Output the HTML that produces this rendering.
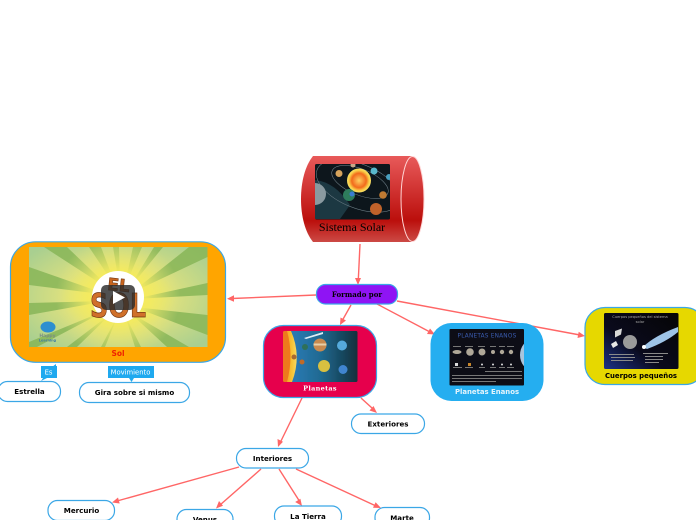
<!DOCTYPE html>
<html><head><meta charset="utf-8"><style>
html,body{margin:0;padding:0;background:#fff;width:696px;height:520px;overflow:hidden}
svg{display:block}
.v{font-family:"DejaVu Sans",sans-serif;font-weight:bold;font-size:7.1px;fill:#000;text-anchor:middle}
.box{fill:#fff;stroke:#3ba7e6;stroke-width:1.2}
.l{stroke:#ff6666;stroke-width:1.4;fill:none}
.a{fill:#ff6666}
</style></head><body>
<svg width="696" height="520" viewBox="0 0 696 520" xmlns="http://www.w3.org/2000/svg">
<defs>
<linearGradient id="cyl" x1="0" y1="0" x2="0" y2="1"><stop offset="0" stop-color="#e85a5a"/><stop offset=".75" stop-color="#bb0f0c"/><stop offset="1" stop-color="#cc4a45"/></linearGradient>
<radialGradient id="sun" cx=".5" cy=".5" r=".65"><stop offset="0" stop-color="#fff"/><stop offset=".18" stop-color="#fff34a"/><stop offset=".5" stop-color="#d8df80"/><stop offset="1" stop-color="#a9cf90"/></radialGradient>
<radialGradient id="glow"><stop offset="0" stop-color="#fbf04a"/><stop offset=".45" stop-color="#f4ea60" stop-opacity=".9"/><stop offset="1" stop-color="#e4e480" stop-opacity="0"/></radialGradient>
<radialGradient id="s2"><stop offset="0" stop-color="#ffd060"/><stop offset=".6" stop-color="#f26a1c"/><stop offset=".85" stop-color="#f9d048"/><stop offset="1" stop-color="#f9e068"/></radialGradient>
<linearGradient id="pl" x1="0" y1="0" x2="1" y2="0"><stop offset="0" stop-color="#2f7fc0"/><stop offset=".5" stop-color="#1f6a92"/><stop offset="1" stop-color="#12303c"/></linearGradient>
<linearGradient id="sunedge" x1="0" y1="0" x2="1" y2="0"><stop offset="0" stop-color="#f09020"/><stop offset=".6" stop-color="#f7c030"/><stop offset="1" stop-color="#f8d860"/></linearGradient>
<linearGradient id="cp" x1="1" y1="0" x2="0" y2="1"><stop offset="0" stop-color="#050505"/><stop offset=".6" stop-color="#0a0a1c"/><stop offset="1" stop-color="#1c3288"/></linearGradient>
<clipPath id="c1"><rect x="315" y="164" width="75" height="55.500" rx="1.500"/></clipPath>
<clipPath id="c2"><rect x="283" y="331" width="74.500" height="51" rx="1.500"/></clipPath>
<clipPath id="c3"><rect x="449.500" y="329" width="74.500" height="56.500" rx="1"/></clipPath>
<filter id="b" x="-5%" y="-5%" width="110%" height="110%"><feGaussianBlur stdDeviation=".35"/></filter>
</defs>

<!-- connectors -->
<path class="l" d="M360 244L358.300 280"/><path class="a" d="M358 285l-3-7h6z"/>
<path class="l" d="M316 295L232 298.500"/><path class="a" d="M227 298.700l7-3.500v6.500z"/>
<path class="l" d="M351 305L342 321"/><path class="a" d="M340 325l.5-7.500 5.500 3z"/>
<path class="l" d="M377 304L430 332"/><path class="a" d="M435 334.500l-8-.5 3-5.500z"/>
<path class="l" d="M397 301L580 335"/><path class="a" d="M585 336l-7.500 2 1.200-6.200z"/>
<path class="l" d="M302 398L280 443"/><path class="a" d="M278 447l-.5-8 5.500 2.700z"/>
<path class="l" d="M361 398L372 408"/><path class="a" d="M377 413l-7.500-2.500 4-4.500z"/>
<path class="l" d="M239 467L117 501"/><path class="a" d="M112 502.500l6-5 1.700 6z"/>
<path class="l" d="M261 469L220 505"/><path class="a" d="M216 508.500l3-7.500 4 4.700z"/>
<path class="l" d="M279 469L300 502"/><path class="a" d="M302 506l-6.800-4 5.200-3.300z"/>
<path class="l" d="M296 469L376 506"/><path class="a" d="M381 508l-8-.2 2.600-5.600z"/>

<!-- cylinder -->
<path d="M313 156H412V242H313C305 232 301 216 301 199S305 166 313 156Z" fill="url(#cyl)"/>
<ellipse cx="412.500" cy="199" rx="11.500" ry="42.500" fill="url(#cyl)" stroke="#ffd5d5" stroke-width="1"/>
<g clip-path="url(#c1)"><g filter="url(#b)">
<rect x="315" y="164" width="75" height="55.500" fill="#0c161d"/>
<path d="M315 180Q335 182 350 205L340 219H315Z" fill="#22404c" opacity=".8"/>
<g fill="none" stroke="#7a8a92" stroke-width=".5"><ellipse cx="360" cy="182" rx="30" ry="13" transform="rotate(22 360 182)"/><ellipse cx="358" cy="186" rx="44" ry="22" transform="rotate(22 358 186)"/></g>
<circle cx="359" cy="180.500" r="12" fill="url(#s2)"/>
<circle cx="349" cy="195" r="6" fill="#2f7d5c"/><circle cx="352" cy="194" r="2.500" fill="#3a7bd0"/>
<circle cx="339" cy="173.500" r="3.500" fill="#d6a35c"/><circle cx="374" cy="171" r="3.500" fill="#58b8cc"/><circle cx="353" cy="165" r="2.500" fill="#c8a888"/><circle cx="389" cy="177" r="3" fill="#48a0c0"/>
<circle cx="383" cy="195" r="3.800" fill="#c07a30"/><circle cx="376" cy="209" r="6" fill="#c0622a"/><circle cx="315" cy="194" r="11" fill="#8a9aa0"/>
</g></g>
<text x="352" y="231" font-family="'Liberation Serif',serif" font-size="12" text-anchor="middle" fill="#000">Sistema Solar</text>

<!-- Formado por -->
<rect x="316.500" y="284.500" width="81" height="19.500" rx="9" fill="#8f14f4" stroke="#3ba7e6" stroke-width="1.200"/>
<text x="357" y="297" font-family="'DejaVu Serif','Liberation Serif',serif" font-weight="bold" font-size="7" text-anchor="middle" fill="#000">Formado por</text>

<!-- Sol -->
<rect x="10.500" y="241.800" width="215" height="120.500" rx="25" fill="#ffa500" stroke="#3ba7e6" stroke-width="1.200"/>
<svg x="29" y="247" width="178.500" height="100" viewBox="0 0 178.500 100">
<g filter="url(#b)">
<rect width="178.500" height="100" fill="url(#sun)"/>
<g fill="#88b657" opacity=".85">
<path d="M15 0H38L86 46Z"/><path d="M60 0H72L88 42Z"/><path d="M84 0H90L91 42Z"/><path d="M104 0H113L95 42Z"/><path d="M125 0H134L99 43Z"/>
<path d="M178.500 0V10L102 46L160 0Z"/><path d="M178.500 36V48L105 52Z"/><path d="M178.500 68V88L105 60Z"/>
<path d="M0 20V38L80 48Z"/><path d="M0 56V68L78 54Z"/><path d="M0 95V100H8L80 62Z"/><path d="M38 100H48L84 65Z"/><path d="M72 100H76L89 68Z"/><path d="M106 100H112L96 68Z"/><path d="M138 100H160L100 65Z"/>
</g>
<circle cx="89" cy="50" r="62" fill="url(#glow)"/>
<circle cx="89" cy="50" r="26" fill="#fff"/>
</g>
<text x="89" y="44" font-family="'DejaVu Sans',sans-serif" font-weight="bold" font-size="17" text-anchor="middle" fill="#c9661f" stroke="#6e3310" stroke-width=".6" transform="rotate(6 89 44)">EL</text>
<text x="89" y="70" font-family="'DejaVu Sans',sans-serif" font-weight="bold" font-size="33" text-anchor="middle" fill="#d0702a" stroke="#6e3310" stroke-width=".7" textLength="56" lengthAdjust="spacingAndGlyphs">SOL</text>
<rect x="72" y="38" width="34" height="25" rx="5" fill="#2b2b2b" opacity=".82"/>
<path d="M84 44L96 50.500L84 57Z" fill="#fff"/>
<ellipse cx="19" cy="80" rx="7.500" ry="5.500" fill="#2d8fd0"/>
<text x="18.500" y="90" font-family="'DejaVu Sans',sans-serif" font-size="4.500" font-weight="bold" text-anchor="middle" fill="#7a8f80">Happy</text>
<text x="18.500" y="94.500" font-family="'DejaVu Sans',sans-serif" font-size="3.500" font-weight="bold" text-anchor="middle" fill="#3a78a8">Learning</text>
</svg>
<text x="118" y="356" class="v" style="fill:#ee2200;font-size:7.500px">Sol</text>

<!-- Es / Movimiento -->
<path d="M41 366H57V378H47L41 381L43 378H41Z" fill="#1fa9ef"/><path d="M56 364V367H52Z" fill="#1fa9ef"/>
<text x="48.500" y="374.500" font-family="'DejaVu Sans',sans-serif" font-size="6.800" text-anchor="middle" fill="#fff">Es</text>
<rect x="108" y="366" width="46" height="12" fill="#1fa9ef"/><path d="M129 378h5l-2.500 4z" fill="#1fa9ef"/>
<text x="130.500" y="374.500" font-family="'DejaVu Sans',sans-serif" font-size="6.800" text-anchor="middle" fill="#fff">Movimiento</text>

<rect x="-2" y="381.500" width="62.500" height="20" rx="9.500" class="box"/>
<text x="29.500" y="394" class="v">Estrella</text>
<rect x="79.500" y="382.500" width="110" height="20" rx="9.500" class="box"/>
<text x="134.500" y="395" class="v">Gira sobre si mismo</text>

<!-- Planetas -->
<rect x="263.500" y="325.500" width="113" height="72" rx="20" fill="#e6004c" stroke="#3ba7e6" stroke-width="1.200"/>
<g clip-path="url(#c2)"><g filter="url(#b)">
<rect x="283" y="331" width="74.500" height="51" fill="url(#pl)"/>
<path d="M283 331H291Q302 356 292 382H283Z" fill="url(#sunedge)"/>
<path d="M283 331H287Q294 356 287 382H283Z" fill="#ee7a1c"/>
<circle cx="320" cy="345" r="6.500" fill="#c88a50"/><rect x="313.500" y="343.500" width="13" height="2" fill="#e8d0a8"/>
<circle cx="342" cy="345.500" r="5" fill="#55aadc"/><circle cx="324" cy="366" r="6" fill="#d8c040"/><circle cx="343" cy="369.500" r="4.500" fill="#3f85d0"/><circle cx="305" cy="347" r="3" fill="#2f6f58"/><circle cx="302" cy="362" r="2.500" fill="#c06a28"/><circle cx="294" cy="357" r="2.500" fill="#a86a30"/>
<path d="M304 338L323 332V334L306 339Z" fill="#dfeef5"/>
</g></g>
<text x="320" y="390.500" font-family="'DejaVu Serif','Liberation Serif',serif" font-weight="bold" font-size="6.500" text-anchor="middle" fill="#fff" letter-spacing=".3">Planetas</text>

<!-- Enanos -->
<rect x="430.500" y="323" width="113" height="78" rx="21" fill="#25aef0"/>
<g clip-path="url(#c3)"><g filter="url(#b)">
<rect x="449.500" y="329" width="74.500" height="56.500" fill="#070b18"/>
<g fill="#b0a898"><ellipse cx="457" cy="352" rx="4.500" ry="2"/><circle cx="470" cy="352" r="3.800"/><circle cx="482" cy="352" r="3.500"/><circle cx="493" cy="352" r="2"/><circle cx="502" cy="352" r="2.200"/><circle cx="511" cy="352" r="2.200"/></g>
<ellipse cx="532" cy="355" r="13" rx="12" ry="15" fill="#a8c4dc"/>
<g fill="#777"><rect x="453" y="346" width="8" height="1"/><rect x="465" y="346" width="8" height="1"/><rect x="478" y="346" width="7" height="1"/><rect x="490" y="346" width="6" height="1"/><rect x="499" y="346" width="6" height="1"/><rect x="507" y="346" width="7" height="1"/>
<rect x="453" y="367" width="9" height="1"/><rect x="465" y="367" width="8" height="1"/><rect x="479" y="367" width="6" height="1"/><rect x="490" y="367" width="6" height="1"/><rect x="499" y="367" width="6" height="1"/><rect x="507" y="367" width="7" height="1"/>
<rect x="485" y="371" width="37" height="1"/><rect x="452" y="375" width="70" height="1"/><rect x="452" y="378" width="70" height="1"/><rect x="452" y="381" width="44" height="1"/></g>
<g fill="#ddd"><rect x="455" y="363" width="3" height="3"/><rect x="468" y="363" width="3" height="3" fill="#c8862a"/><circle cx="482" cy="364.500" r="1"/><circle cx="493" cy="364.500" r="1"/><circle cx="502" cy="364.500" r="1"/><circle cx="511" cy="364.500" r="1"/></g>
</g></g>
<text x="487" y="337.500" font-family="'DejaVu Sans',sans-serif" font-size="5.800" text-anchor="middle" fill="#3a5cb0" letter-spacing=".2">PLANETAS ENANOS</text>
<text x="487" y="394" font-family="'DejaVu Sans',sans-serif" font-weight="bold" font-size="6.900" text-anchor="middle" fill="#e4f4fc">Planetas Enanos</text>

<!-- Cuerpos -->
<rect x="585" y="307.500" width="120" height="77" rx="20" fill="#e6d800" stroke="#3ba7e6" stroke-width="1.200"/>
<rect x="604" y="313" width="74.500" height="56" rx="1.500" fill="url(#cp)"/>
<g filter="url(#b)">
<circle cx="630" cy="342" r="7" fill="#9a9a9a"/><path d="M615 331l7-2.500-1 6-6 3z" fill="#d8d8d8"/><path d="M611 344l5-3 2 4-5 3z" fill="#e8e8e8"/>
<path d="M643 347Q654 336 678 327V332Q666 342 647 349Z" fill="#9ec4e8"/><circle cx="644" cy="347" r="2" fill="#fff"/>
<g fill="#8a8a8a"><rect x="609" y="354" width="25" height="1"/><rect x="611" y="357" width="24" height="1"/><rect x="611" y="360" width="22" height="1"/><rect x="643" y="353" width="25" height="1"/><rect x="645" y="356" width="18" height="1"/><rect x="645" y="359" width="18" height="1"/><rect x="645" y="362" width="14" height="1"/></g>
</g>
<text x="640" y="318" font-family="'DejaVu Sans',sans-serif" font-size="3.600" text-anchor="middle" fill="#a8a8a8">Cuerpos pequeños del sistema</text>
<text x="640" y="323" font-family="'DejaVu Sans',sans-serif" font-size="3.600" text-anchor="middle" fill="#a8a8a8">solar</text>
<text x="641" y="378" class="v" style="font-size:6.900px">Cuerpos pequeños</text>

<!-- Leaves -->
<rect x="351.500" y="414" width="73" height="19.500" rx="9.500" class="box"/>
<text x="388" y="426.500" class="v">Exteriores</text>
<rect x="236.500" y="448.500" width="72" height="19.500" rx="9.500" class="box"/>
<text x="272.500" y="461" class="v">Interiores</text>
<rect x="48" y="500.500" width="66.500" height="20" rx="9.500" class="box"/>
<text x="81.500" y="513" class="v">Mercurio</text>
<rect x="177" y="509.500" width="56" height="20" rx="9.500" class="box"/>
<text x="205" y="522" class="v">Venus</text>
<rect x="274.500" y="506" width="67" height="20" rx="9.500" class="box"/>
<text x="308" y="519" class="v">La Tierra</text>
<rect x="375" y="507.500" width="54.500" height="20" rx="9.500" class="box"/>
<text x="402" y="520.500" class="v">Marte</text>
</svg>
</body></html>
